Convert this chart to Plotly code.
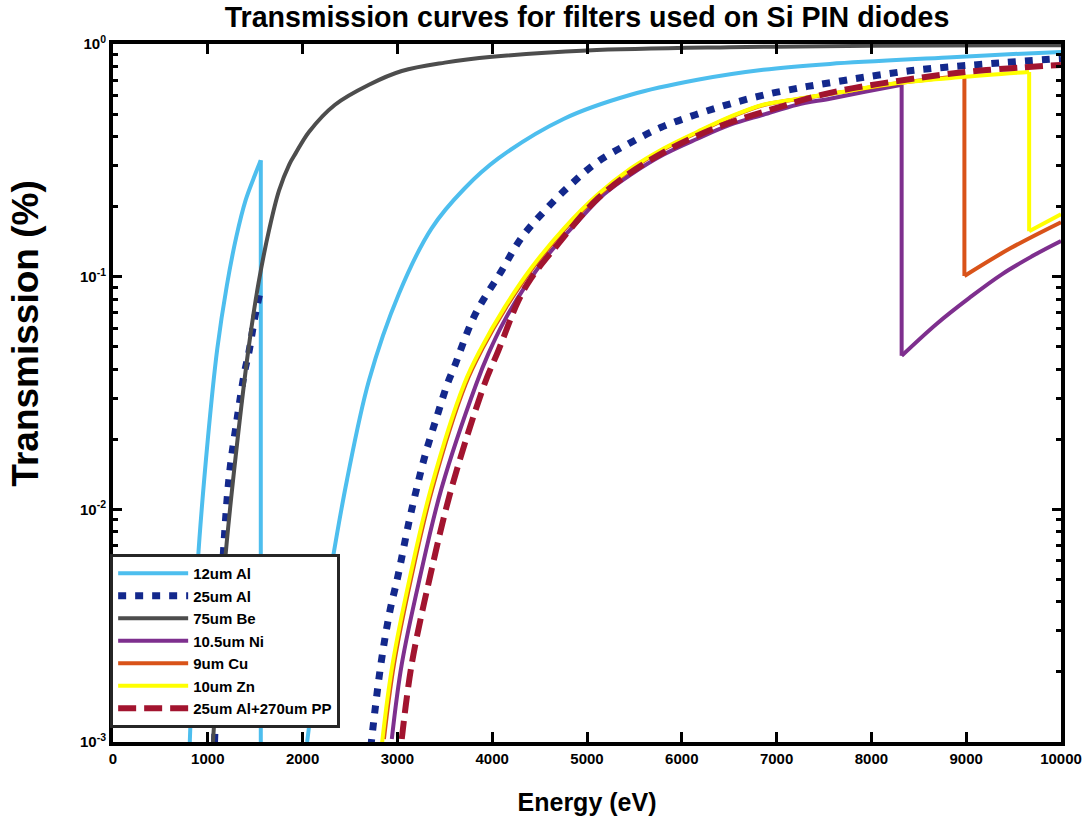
import plotly.graph_objects as go

FONT = "Liberation Sans, Arial, Helvetica, sans-serif"

# ---------------- data (energy in eV, transmission as fraction) ----------------
al12_E = [810, 893, 1000, 1100, 1200, 1300, 1400, 1500, 1559, 1559, None,
          2048, 2200, 2311, 2468, 2700, 3015, 3361, 3708, 4065, 4758, 5462, 6166,
          6859, 7563, 8800, 9400, 10000]
al12_T = [0.001, 0.00578, 0.01995, 0.0490, 0.0912, 0.1479, 0.2138, 0.2754, 0.3162, 0.0008, None,
          0.001, 0.00302, 0.00589, 0.01337, 0.0358, 0.0843, 0.1614, 0.2393, 0.3221, 0.4775,
          0.6053, 0.7015, 0.7745, 0.8210, 0.8750, 0.9016, 0.9247]

al25_E = [1071, 1110, 1155, 1225, 1313, 1383, 1436, 1489, 1523, 1559, None,
          2720, 2731, 2826, 2920, 3004, 3120, 3204, 3298, 3414, 3529, 3603, 3813, 4097,
          4307, 4548, 4832, 5116, 5441, 5777, 6145, 6513, 6880, 7248, 7437, 8403, 9349, 10000]
al25_T = [0.001, 0.00251, 0.00562, 0.0138, 0.0251, 0.0380, 0.0479, 0.0646, 0.0759, 0.0883, None,
          0.00095, 0.00105, 0.00216, 0.00364, 0.00513, 0.00875, 0.01233, 0.01742, 0.02483,
          0.03475, 0.0412, 0.06792, 0.1057, 0.1466, 0.1910, 0.2495, 0.3126, 0.3733, 0.4375,
          0.4966, 0.5534, 0.6053, 0.6486, 0.6683, 0.7667, 0.8292, 0.8670]

be75_E = [1055, 1176, 1300, 1436, 1534, 1646, 1751, 1859, 1926, 2069, 2342, 2700, 3046,
          3500, 4000, 5000, 6500, 8000, 10000]
be75_T = [0.001, 0.00562, 0.01778, 0.0513, 0.0933, 0.1585, 0.2344, 0.3034, 0.3388, 0.4198,
          0.5483, 0.6683, 0.7656, 0.8318, 0.8810, 0.9376, 0.9683, 0.9817, 0.9886]

ni_E = [2941, 3046, 3239, 3466, 3834, 3960, 4128, 4338, 4622, 4905, 5179, 5462, 5809, 6166,
        6513, 6859, 7216, 7563, 7931, 8319, 8319, 8687, 9034, 9380, 9737, 10000]
ni_T = [0.00103, 0.00216, 0.00513, 0.01233, 0.03475, 0.04667, 0.06457, 0.08954, 0.1288,
        0.1730, 0.2259, 0.2748, 0.3350, 0.3917, 0.4498, 0.4966, 0.5483, 0.5821, 0.6237,
        0.6683, 0.04571, 0.06266, 0.08110, 0.1026, 0.1250, 0.1422]

cu_E = [2858, 2964, 3149, 3369, 3720, 3902, 4143, 4427, 4773, 5131, 5477, 5824, 6181, 6528,
        6874, 7231, 7578, 8313, 8981, 8981, 9470, 10000]
cu_T = [0.00103, 0.00216, 0.00515, 0.01230, 0.03459, 0.04955, 0.07345, 0.1089, 0.1614,
        0.2259, 0.2917, 0.3556, 0.4198, 0.4875, 0.5483, 0.5808, 0.6109, 0.6808, 0.7300,
        0.1007, 0.1327, 0.1714]

zn_E = [2835, 2843, 2949, 3134, 3354, 3705, 3887, 4128, 4412, 4758, 5116, 5462, 5809, 6166,
        6513, 6859, 7216, 7563, 8298, 8981, 9664, 9664, 10000]
zn_T = [0.00095, 0.00103, 0.00216, 0.00515, 0.01230, 0.03459, 0.04955, 0.07345, 0.1089,
        0.1614, 0.2259, 0.2917, 0.3556, 0.4198, 0.4875, 0.5483, 0.5808, 0.6109, 0.6808,
        0.7228, 0.7586, 0.1567, 0.1854]

pp_E = [3046, 3151, 3344, 3571, 3921, 4065, 4275, 4412, 4695, 5116, 5641, 6334, 7038, 7563,
        8508, 9212, 10000]
pp_T = [0.00103, 0.00216, 0.00513, 0.01233, 0.03475, 0.04808, 0.07870, 0.09863, 0.1380,
        0.2173, 0.3126, 0.4325, 0.5370, 0.6166, 0.7161, 0.7727, 0.8128]

x_ticks = [0, 1000, 2000, 3000, 4000, 5000, 6000, 7000, 8000, 9000, 10000]
x_ticktext = ["0", "1000", "2000", "3000", "4000", "5000", "6000", "7000", "8000", "9000", "10000"]
y_ticks = [0.001, 0.01, 0.1, 1]
y_ticktext = ["10<sup>-3</sup>", "10<sup>-2</sup>", "10<sup>-1</sup>", "10<sup>0</sup>"]
y_minor = [m * d for d in (0.001, 0.01, 0.1) for m in range(2, 10)]

# ---------------- figure ----------------
series = [
    ("12um Al", al12_E, al12_T, "#4DBEEE", 4, "solid"),
    ("25um Al", al25_E, al25_T, "#13288C", 7, "8px,9px"),
    ("75um Be", be75_E, be75_T, "#4D4D4D", 4, "solid"),
    ("10.5um Ni", ni_E, ni_T, "#7E2F8E", 4, "solid"),
    ("9um Cu", cu_E, cu_T, "#D95319", 4, "solid"),
    ("10um Zn", zn_E, zn_T, "#FFFF00", 4, "solid"),
    ("25um Al+270um PP", pp_E, pp_T, "#A2142F", 6, "18px,8px"),
]


def split_pieces(xs, ys):
    """Split a series into smooth pieces and vertical absorption-edge drops."""
    smooth, edges, cur = [], [], []
    for x, y in zip(xs, ys):
        if x is None:
            if len(cur) > 1:
                smooth.append(cur)
            cur = []
            continue
        if cur and x == cur[-1][0]:
            if len(cur) > 1:
                smooth.append(cur)
            edges.append([cur[-1], (x, y)])
            cur = [(x, y)]
        else:
            cur.append((x, y))
    if len(cur) > 1:
        smooth.append(cur)
    return smooth, edges


fig = go.Figure()
for name, xs, ys, col, w, dash in series:
    smooth, edges = split_pieces(xs, ys)
    first = True
    for seg in smooth:
        fig.add_trace(go.Scatter(
            x=[p[0] for p in seg], y=[p[1] for p in seg], mode="lines", name=name,
            legendgroup=name, showlegend=first,
            line=dict(color=col, width=w, dash=dash, shape="spline", smoothing=1.0)))
        first = False
    for seg in edges:
        fig.add_trace(go.Scatter(
            x=[p[0] for p in seg], y=[p[1] for p in seg], mode="lines", name=name,
            legendgroup=name, showlegend=False,
            line=dict(color=col, width=w, dash=dash)))

axis_common = dict(showline=True, linewidth=4, linecolor="black", mirror="ticks",
                   ticks="inside", tickwidth=3, tickcolor="black", showgrid=False,
                   zeroline=False,
                   tickfont=dict(family=FONT, size=15, color="black", weight="bold"))

fig.update_xaxes(range=[0, 10000], tickmode="array", tickvals=x_ticks, ticktext=x_ticktext,
                 ticklen=10,
                 title=dict(text="Energy (eV)", standoff=28,
                            font=dict(family=FONT, size=25, color="black", weight="bold")),
                 **axis_common)
fig.update_yaxes(type="log", range=[-3, 0], tickmode="array", tickvals=y_ticks,
                 ticktext=y_ticktext, ticklen=9,
                 minor=dict(tickmode="array", tickvals=y_minor, ticks="inside", ticklen=5,
                            tickwidth=3, tickcolor="black", showgrid=False),
                 **axis_common)

fig.add_annotation(text="Transmission (%)", textangle=-90, xref="paper", yref="paper",
                   x=-0.0918, y=0.585, xanchor="center", yanchor="middle", showarrow=False,
                   font=dict(family=FONT, size=37, color="black", weight="bold"))

fig.update_layout(
    width=1087, height=819,
    margin=dict(l=113, r=26, t=44, b=77, autoexpand=False),
    paper_bgcolor="white", plot_bgcolor="white",
    title=dict(text="Transmission curves for filters used on Si PIN diodes",
               x=0.5, xref="paper", xanchor="center", y=0.979, yref="container",
               yanchor="middle",
               font=dict(family=FONT, size=28.6, color="black", weight="bold")),
    legend=dict(x=-0.003, y=0.02, xanchor="left", yanchor="bottom", bgcolor="white",
                bordercolor="#262626", borderwidth=3, itemwidth=70, tracegroupgap=0,
                font=dict(family=FONT, size=15, color="black", weight="bold")),
    showlegend=True,
)

fig.write_html("out.html")
